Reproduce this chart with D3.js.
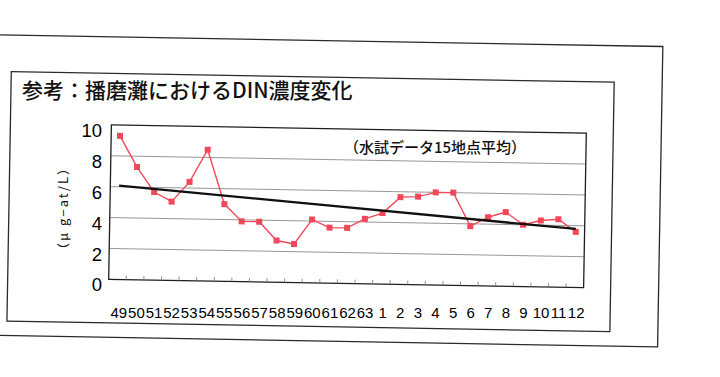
<!DOCTYPE html>
<html>
<head>
<meta charset="utf-8">
<script src="https://cdn.jsdelivr.net/npm/d3@7"></script>
<style>
  body { margin: 0; background: #fff; }
  .num { font-family: 'Liberation Sans Narrow', 'Arial Narrow', 'Liberation Sans', sans-serif; fill: #000; }
  .jp { font-family: 'Noto Sans CJK JP', sans-serif; fill: #111; }
</style>
</head>
<body>
<div class="dinchart"></div>
<script>
const categories = ['49', '50', '51', '52', '53', '54', '55', '56', '57', '58', '59', '60', '61', '62', '63',
  '1', '2', '3', '4', '5', '6', '7', '8', '9', '10', '11', '12'];
const din = [9.3, 7.3, 5.7, 5.1, 6.4, 8.5, 5.0, 3.9, 3.9, 2.7, 2.5, 4.1, 3.6, 3.6, 4.2,
  4.6, 5.65, 5.7, 6.0, 6.0, 3.85, 4.45, 4.8, 4.0, 4.3, 4.4, 3.6];
const yTicks = [0, 2, 4, 6, 8, 10];
const gridTicks = [2, 4, 6, 8];

const svg = d3.select('.dinchart').append('svg')
  .attr('width', 720).attr('height', 377);

const plot = { left: 110, right: 585, top: 129, bottom: 283.5 };
// the scanned page sits about one degree askew
const tilt = 'rotate(1,347,206)';

const x = d3.scaleBand().domain(categories).range([plot.left, plot.right]);
const y = d3.scaleLinear().domain([0, 10]).range([plot.bottom, plot.top]);
const cx = function(d, i) { return x(categories[i]) + x.bandwidth() / 2; };

// page frames
const frames = svg.append('g').attr('transform', tilt)
  .attr('fill', 'none').attr('stroke', '#2a2a2a').attr('stroke-width', 1.3);
frames.append('rect').attr('x', -12).attr('y', 41).attr('width', 672).attr('height', 300.5);
frames.append('rect').attr('x', 9).attr('y', 77.5).attr('width', 603).attr('height', 249.5);

const g = svg.append('g').attr('transform', tilt);

g.selectAll('.grid')
  .data(gridTicks)
  .enter().append('line')
  .attr('class', 'grid')
  .attr('x1', plot.left).attr('x2', plot.right)
  .attr('y1', function(d) { return y(d); }).attr('y2', function(d) { return y(d); })
  .attr('stroke', '#8c8c8c').attr('stroke-width', 0.9);

g.append('rect')
  .attr('x', plot.left).attr('y', plot.top)
  .attr('width', plot.right - plot.left).attr('height', plot.bottom - plot.top)
  .attr('fill', 'none').attr('stroke', '#1e1e1e').attr('stroke-width', 1.3);

g.selectAll('.xtick')
  .data(d3.range(1, categories.length))
  .enter().append('line')
  .attr('class', 'xtick')
  .attr('x1', function(i) { return plot.left + i * x.step(); })
  .attr('x2', function(i) { return plot.left + i * x.step(); })
  .attr('y1', plot.bottom).attr('y2', plot.bottom - 4)
  .attr('stroke', '#777').attr('stroke-width', 0.8);

// least squares trend line over the series
const idx = d3.range(din.length);
const mx = d3.mean(idx), my = d3.mean(din);
const slope = d3.sum(idx, function(i) { return (i - mx) * (din[i] - my); }) /
  d3.sum(idx, function(i) { return (i - mx) * (i - mx); });
const fit = function(i) { return my + slope * (i - mx); };

g.append('path')
  .datum(din)
  .attr('fill', 'none')
  .attr('stroke', '#f04858')
  .attr('stroke-width', 1.4)
  .attr('d', d3.line().x(cx).y(function(d) { return y(d); }));

g.selectAll('.mark')
  .data(din)
  .enter().append('rect')
  .attr('class', 'mark')
  .attr('x', function(d, i) { return cx(d, i) - 3; })
  .attr('y', function(d) { return y(d) - 3; })
  .attr('width', 6).attr('height', 6)
  .attr('fill', '#f04858');

const ends = [0, din.length - 1];
g.append('line')
  .attr('x1', cx(null, ends[0])).attr('y1', y(fit(ends[0])))
  .attr('x2', cx(null, ends[1])).attr('y2', y(fit(ends[1])))
  .attr('stroke', '#111').attr('stroke-width', 2.3);

// axis labels
const yAxis = svg.append('g')
  .attr('transform', 'translate(' + plot.left + ',1.5)')
  .call(d3.axisLeft(y).tickValues(yTicks).tickSize(0).tickPadding(8));
yAxis.select('.domain').remove();
yAxis.selectAll('text').attr('class', 'num').style('font-size', '18.5px');

const xAxis = svg.append('g')
  .attr('transform', 'translate(0,' + plot.bottom + ')')
  .call(d3.axisBottom(x).tickSize(0).tickPadding(24));
xAxis.select('.domain').remove();
xAxis.selectAll('text').attr('class', 'num').style('font-size', '15px');

svg.append('text')
  .attr('class', 'jp')
  .attr('x', 22).attr('y', 98)
  .style('font-size', '21px').style('font-weight', 500)
  .text('参考：播磨灘におけるDIN濃度変化');

svg.append('text')
  .attr('class', 'jp')
  .attr('x', 435).attr('y', 148).attr('dy', '0.35em')
  .attr('text-anchor', 'middle')
  .style('font-size', '15px').style('font-weight', 500)
  .text('（水試データ15地点平均）');

svg.append('text')
  .attr('class', 'jp')
  .attr('transform', 'translate(63,208) rotate(-90)')
  .attr('dy', '0.35em')
  .attr('text-anchor', 'middle')
  .style('font-size', '13px').style('letter-spacing', '2px')
  .text('（μ g−at/L）');
</script>
</body>
</html>
